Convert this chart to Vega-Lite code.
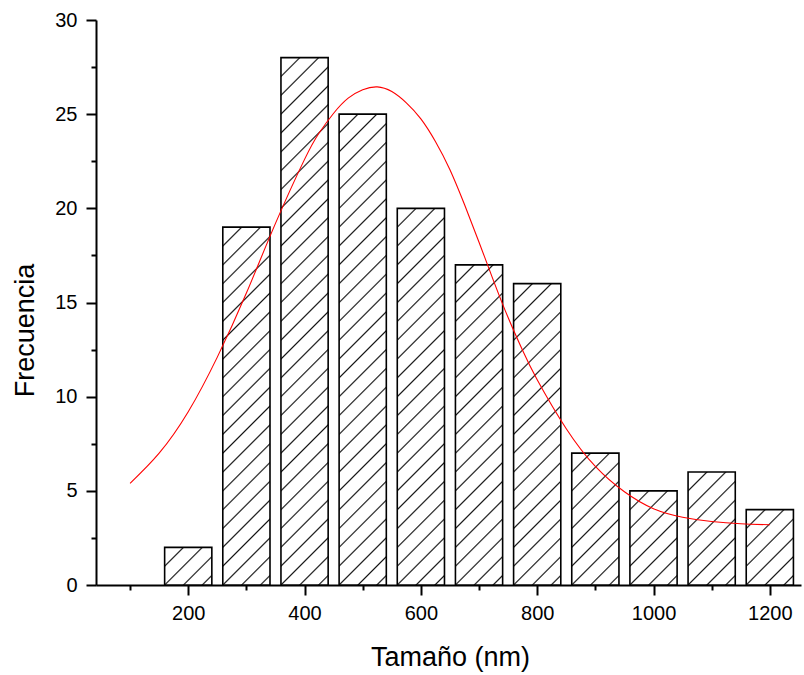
{
"$schema":"https://vega.github.io/schema/vega-lite/v6.json",
"width":705,"height":565,
"autosize":{"type":"none"},
"padding":{"left":96,"top":20,"right":3,"bottom":90},
"background":"white",
"config":{"view":{"stroke":null}},
"datasets":{
"bars":[{"size":200,"freq":2},{"size":300,"freq":19},{"size":400,"freq":28},{"size":500,"freq":25},{"size":600,"freq":20},{"size":700,"freq":17},{"size":800,"freq":16},{"size":900,"freq":7},{"size":1000,"freq":5},{"size":1100,"freq":6},{"size":1200,"freq":4}],
"curve":[{"size":100,"fit":5.4},{"size":150,"fit":7.0},{"size":200,"fit":9.2},{"size":250,"fit":12.1},{"size":300,"fit":15.5},{"size":350,"fit":19.2},{"size":400,"fit":22.6},{"size":425,"fit":24.0},{"size":450,"fit":25.05},{"size":475,"fit":25.85},{"size":500,"fit":26.3},{"size":525,"fit":26.45},{"size":550,"fit":26.2},{"size":575,"fit":25.6},{"size":600,"fit":24.75},{"size":625,"fit":23.55},{"size":650,"fit":22.05},{"size":675,"fit":20.2},{"size":700,"fit":18.2},{"size":725,"fit":16.15},{"size":750,"fit":14.2},{"size":775,"fit":12.45},{"size":800,"fit":10.9},{"size":850,"fit":8.3},{"size":900,"fit":6.3},{"size":950,"fit":4.95},{"size":1000,"fit":4.05},{"size":1050,"fit":3.6},{"size":1100,"fit":3.37},{"size":1150,"fit":3.25},{"size":1200,"fit":3.2}]
},
"data":{"name":"bars"},
"encoding":{
"x":{"field":"size","type":"quantitative","scale":{"domain":[50,1245],"nice":false,"zero":false},
"axis":{"values":[100,200,300,400,500,600,700,800,900,1000,1100,1200],"format":"d","labelExpr":"datum.value % 200 === 0 ? datum.label : ''","tickSize":{"condition":{"test":"datum.value % 200 === 0","value":10},"value":5},"grid":false,"domainColor":"#000","domainWidth":2,"tickColor":"#000","tickWidth":2,"labelFont":"Liberation Sans","labelFontSize":20,"labelColor":"#000","labelPadding":8,"labelFlush":false,"labelOverlap":false,"labelBound":false,"title":"Tamaño (nm)","titleFont":"Liberation Sans","titleFontSize":27,"titleFontWeight":"normal","titleColor":"#000","titleX":354,"titleY":80,"titleBaseline":"alphabetic","titleAlign":"center"}},
"y":{"field":"freq","type":"quantitative","scale":{"domain":[0,30],"nice":false,"zero":true},
"axis":{"values":[0,2.5,5,7.5,10,12.5,15,17.5,20,22.5,25,27.5,30],"labelExpr":"datum.value % 5 === 0 ? datum.label : ''","tickSize":{"condition":{"test":"datum.value % 5 === 0","value":10},"value":5},"grid":false,"domainColor":"#000","domainWidth":2,"tickColor":"#000","tickWidth":2,"labelFont":"Liberation Sans","labelFontSize":20,"labelColor":"#000","labelPadding":9,"labelFlush":false,"labelOverlap":false,"labelBound":false,"title":"Frecuencia","titleFont":"Liberation Sans","titleFontSize":27,"titleFontWeight":"normal","titleColor":"#000","titleAngle":-90,"titleX":-63,"titleY":310,"titleBaseline":"alphabetic","titleAlign":"center"}}
},
"layer":[
{"transform":[{"filter":"datum.size===200"}],"mark":{"type":"bar","width":47.2,"stroke":"#000","strokeWidth":1.6,"fill":{"gradient":"linear","x1":0,"y1":0,"x2":1.0984,"y2":0.8766,"stops":[{"offset":0.2030,"color":"#fff"},{"offset":0.2219,"color":"#111"},{"offset":0.2408,"color":"#fff"},{"offset":0.4250,"color":"#fff"},{"offset":0.4439,"color":"#111"},{"offset":0.4628,"color":"#fff"},{"offset":0.6469,"color":"#fff"},{"offset":0.6658,"color":"#111"},{"offset":0.6847,"color":"#fff"},{"offset":0.8688,"color":"#fff"},{"offset":0.8877,"color":"#111"},{"offset":0.9066,"color":"#fff"}]}}},
{"transform":[{"filter":"datum.size===300"}],"mark":{"type":"bar","width":47.2,"stroke":"#000","strokeWidth":1.6,"fill":{"gradient":"linear","x1":0,"y1":0,"x2":0.14674,"y2":1.11254,"stops":[{"offset":0.0425,"color":"#fff"},{"offset":0.0465,"color":"#111"},{"offset":0.0505,"color":"#fff"},{"offset":0.0890,"color":"#fff"},{"offset":0.0930,"color":"#111"},{"offset":0.0970,"color":"#fff"},{"offset":0.1355,"color":"#fff"},{"offset":0.1395,"color":"#111"},{"offset":0.1435,"color":"#fff"},{"offset":0.1820,"color":"#fff"},{"offset":0.1860,"color":"#111"},{"offset":0.1900,"color":"#fff"},{"offset":0.2285,"color":"#fff"},{"offset":0.2325,"color":"#111"},{"offset":0.2365,"color":"#fff"},{"offset":0.2750,"color":"#fff"},{"offset":0.2790,"color":"#111"},{"offset":0.2830,"color":"#fff"},{"offset":0.3215,"color":"#fff"},{"offset":0.3255,"color":"#111"},{"offset":0.3295,"color":"#fff"},{"offset":0.3680,"color":"#fff"},{"offset":0.3720,"color":"#111"},{"offset":0.3760,"color":"#fff"},{"offset":0.4145,"color":"#fff"},{"offset":0.4185,"color":"#111"},{"offset":0.4225,"color":"#fff"},{"offset":0.4610,"color":"#fff"},{"offset":0.4650,"color":"#111"},{"offset":0.4690,"color":"#fff"},{"offset":0.5075,"color":"#fff"},{"offset":0.5115,"color":"#111"},{"offset":0.5155,"color":"#fff"},{"offset":0.5540,"color":"#fff"},{"offset":0.5580,"color":"#111"},{"offset":0.5620,"color":"#fff"},{"offset":0.6005,"color":"#fff"},{"offset":0.6045,"color":"#111"},{"offset":0.6085,"color":"#fff"},{"offset":0.6470,"color":"#fff"},{"offset":0.6510,"color":"#111"},{"offset":0.6550,"color":"#fff"},{"offset":0.6935,"color":"#fff"},{"offset":0.6975,"color":"#111"},{"offset":0.7015,"color":"#fff"},{"offset":0.7400,"color":"#fff"},{"offset":0.7440,"color":"#111"},{"offset":0.7480,"color":"#fff"},{"offset":0.7865,"color":"#fff"},{"offset":0.7905,"color":"#111"},{"offset":0.7945,"color":"#fff"},{"offset":0.8330,"color":"#fff"},{"offset":0.8370,"color":"#111"},{"offset":0.8410,"color":"#fff"},{"offset":0.8795,"color":"#fff"},{"offset":0.8835,"color":"#111"},{"offset":0.8875,"color":"#fff"},{"offset":0.9260,"color":"#fff"},{"offset":0.9300,"color":"#111"},{"offset":0.9340,"color":"#fff"},{"offset":0.9725,"color":"#fff"},{"offset":0.9765,"color":"#111"},{"offset":0.9805,"color":"#fff"}]}}},
{"transform":[{"filter":"datum.size===400"}],"mark":{"type":"bar","width":47.2,"stroke":"#000","strokeWidth":1.6,"fill":{"gradient":"linear","x1":0,"y1":0,"x2":0.096738,"y2":1.080843,"stops":[{"offset":0.0300,"color":"#fff"},{"offset":0.0328,"color":"#111"},{"offset":0.0356,"color":"#fff"},{"offset":0.0628,"color":"#fff"},{"offset":0.0656,"color":"#111"},{"offset":0.0684,"color":"#fff"},{"offset":0.0955,"color":"#fff"},{"offset":0.0983,"color":"#111"},{"offset":0.1011,"color":"#fff"},{"offset":0.1283,"color":"#fff"},{"offset":0.1311,"color":"#111"},{"offset":0.1339,"color":"#fff"},{"offset":0.1611,"color":"#fff"},{"offset":0.1639,"color":"#111"},{"offset":0.1667,"color":"#fff"},{"offset":0.1939,"color":"#fff"},{"offset":0.1967,"color":"#111"},{"offset":0.1995,"color":"#fff"},{"offset":0.2267,"color":"#fff"},{"offset":0.2295,"color":"#111"},{"offset":0.2323,"color":"#fff"},{"offset":0.2594,"color":"#fff"},{"offset":0.2622,"color":"#111"},{"offset":0.2650,"color":"#fff"},{"offset":0.2922,"color":"#fff"},{"offset":0.2950,"color":"#111"},{"offset":0.2978,"color":"#fff"},{"offset":0.3250,"color":"#fff"},{"offset":0.3278,"color":"#111"},{"offset":0.3306,"color":"#fff"},{"offset":0.3578,"color":"#fff"},{"offset":0.3606,"color":"#111"},{"offset":0.3634,"color":"#fff"},{"offset":0.3906,"color":"#fff"},{"offset":0.3934,"color":"#111"},{"offset":0.3962,"color":"#fff"},{"offset":0.4233,"color":"#fff"},{"offset":0.4261,"color":"#111"},{"offset":0.4289,"color":"#fff"},{"offset":0.4561,"color":"#fff"},{"offset":0.4589,"color":"#111"},{"offset":0.4617,"color":"#fff"},{"offset":0.4889,"color":"#fff"},{"offset":0.4917,"color":"#111"},{"offset":0.4945,"color":"#fff"},{"offset":0.5217,"color":"#fff"},{"offset":0.5245,"color":"#111"},{"offset":0.5273,"color":"#fff"},{"offset":0.5545,"color":"#fff"},{"offset":0.5573,"color":"#111"},{"offset":0.5601,"color":"#fff"},{"offset":0.5872,"color":"#fff"},{"offset":0.5900,"color":"#111"},{"offset":0.5928,"color":"#fff"},{"offset":0.6200,"color":"#fff"},{"offset":0.6228,"color":"#111"},{"offset":0.6256,"color":"#fff"},{"offset":0.6528,"color":"#fff"},{"offset":0.6556,"color":"#111"},{"offset":0.6584,"color":"#fff"},{"offset":0.6856,"color":"#fff"},{"offset":0.6884,"color":"#111"},{"offset":0.6912,"color":"#fff"},{"offset":0.7184,"color":"#fff"},{"offset":0.7212,"color":"#111"},{"offset":0.7240,"color":"#fff"},{"offset":0.7511,"color":"#fff"},{"offset":0.7539,"color":"#111"},{"offset":0.7567,"color":"#fff"},{"offset":0.7839,"color":"#fff"},{"offset":0.7867,"color":"#111"},{"offset":0.7895,"color":"#fff"},{"offset":0.8167,"color":"#fff"},{"offset":0.8195,"color":"#111"},{"offset":0.8223,"color":"#fff"},{"offset":0.8495,"color":"#fff"},{"offset":0.8523,"color":"#111"},{"offset":0.8551,"color":"#fff"},{"offset":0.8823,"color":"#fff"},{"offset":0.8851,"color":"#111"},{"offset":0.8879,"color":"#fff"},{"offset":0.9150,"color":"#fff"},{"offset":0.9178,"color":"#111"},{"offset":0.9206,"color":"#fff"},{"offset":0.9478,"color":"#fff"},{"offset":0.9506,"color":"#111"},{"offset":0.9534,"color":"#fff"},{"offset":0.9806,"color":"#fff"},{"offset":0.9834,"color":"#111"},{"offset":0.9862,"color":"#fff"}]}}},
{"transform":[{"filter":"datum.size===500"}],"mark":{"type":"bar","width":47.2,"stroke":"#000","strokeWidth":1.6,"fill":{"gradient":"linear","x1":0,"y1":0,"x2":0.109193,"y2":1.089297,"stops":[{"offset":0.0333,"color":"#fff"},{"offset":0.0364,"color":"#111"},{"offset":0.0395,"color":"#fff"},{"offset":0.0696,"color":"#fff"},{"offset":0.0727,"color":"#111"},{"offset":0.0758,"color":"#fff"},{"offset":0.1060,"color":"#fff"},{"offset":0.1091,"color":"#111"},{"offset":0.1122,"color":"#fff"},{"offset":0.1423,"color":"#fff"},{"offset":0.1454,"color":"#111"},{"offset":0.1485,"color":"#fff"},{"offset":0.1787,"color":"#fff"},{"offset":0.1818,"color":"#111"},{"offset":0.1849,"color":"#fff"},{"offset":0.2150,"color":"#fff"},{"offset":0.2181,"color":"#111"},{"offset":0.2212,"color":"#fff"},{"offset":0.2514,"color":"#fff"},{"offset":0.2545,"color":"#111"},{"offset":0.2576,"color":"#fff"},{"offset":0.2877,"color":"#fff"},{"offset":0.2908,"color":"#111"},{"offset":0.2939,"color":"#fff"},{"offset":0.3241,"color":"#fff"},{"offset":0.3272,"color":"#111"},{"offset":0.3303,"color":"#fff"},{"offset":0.3605,"color":"#fff"},{"offset":0.3636,"color":"#111"},{"offset":0.3667,"color":"#fff"},{"offset":0.3968,"color":"#fff"},{"offset":0.3999,"color":"#111"},{"offset":0.4030,"color":"#fff"},{"offset":0.4332,"color":"#fff"},{"offset":0.4363,"color":"#111"},{"offset":0.4394,"color":"#fff"},{"offset":0.4695,"color":"#fff"},{"offset":0.4726,"color":"#111"},{"offset":0.4757,"color":"#fff"},{"offset":0.5059,"color":"#fff"},{"offset":0.5090,"color":"#111"},{"offset":0.5121,"color":"#fff"},{"offset":0.5422,"color":"#fff"},{"offset":0.5453,"color":"#111"},{"offset":0.5484,"color":"#fff"},{"offset":0.5786,"color":"#fff"},{"offset":0.5817,"color":"#111"},{"offset":0.5848,"color":"#fff"},{"offset":0.6150,"color":"#fff"},{"offset":0.6181,"color":"#111"},{"offset":0.6212,"color":"#fff"},{"offset":0.6513,"color":"#fff"},{"offset":0.6544,"color":"#111"},{"offset":0.6575,"color":"#fff"},{"offset":0.6877,"color":"#fff"},{"offset":0.6908,"color":"#111"},{"offset":0.6939,"color":"#fff"},{"offset":0.7240,"color":"#fff"},{"offset":0.7271,"color":"#111"},{"offset":0.7302,"color":"#fff"},{"offset":0.7604,"color":"#fff"},{"offset":0.7635,"color":"#111"},{"offset":0.7666,"color":"#fff"},{"offset":0.7967,"color":"#fff"},{"offset":0.7998,"color":"#111"},{"offset":0.8029,"color":"#fff"},{"offset":0.8331,"color":"#fff"},{"offset":0.8362,"color":"#111"},{"offset":0.8393,"color":"#fff"},{"offset":0.8694,"color":"#fff"},{"offset":0.8725,"color":"#111"},{"offset":0.8756,"color":"#fff"},{"offset":0.9058,"color":"#fff"},{"offset":0.9089,"color":"#111"},{"offset":0.9120,"color":"#fff"},{"offset":0.9422,"color":"#fff"},{"offset":0.9453,"color":"#111"},{"offset":0.9484,"color":"#fff"},{"offset":0.9785,"color":"#fff"},{"offset":0.9816,"color":"#111"},{"offset":0.9847,"color":"#fff"}]}}},
{"transform":[{"filter":"datum.size===600"}],"mark":{"type":"bar","width":47.2,"stroke":"#000","strokeWidth":1.6,"fill":{"gradient":"linear","x1":0,"y1":0,"x2":0.138823,"y2":1.107907,"stops":[{"offset":0.0406,"color":"#fff"},{"offset":0.0444,"color":"#111"},{"offset":0.0482,"color":"#fff"},{"offset":0.0851,"color":"#fff"},{"offset":0.0889,"color":"#111"},{"offset":0.0927,"color":"#fff"},{"offset":0.1295,"color":"#fff"},{"offset":0.1333,"color":"#111"},{"offset":0.1371,"color":"#fff"},{"offset":0.1739,"color":"#fff"},{"offset":0.1777,"color":"#111"},{"offset":0.1815,"color":"#fff"},{"offset":0.2184,"color":"#fff"},{"offset":0.2222,"color":"#111"},{"offset":0.2260,"color":"#fff"},{"offset":0.2628,"color":"#fff"},{"offset":0.2666,"color":"#111"},{"offset":0.2704,"color":"#fff"},{"offset":0.3072,"color":"#fff"},{"offset":0.3110,"color":"#111"},{"offset":0.3148,"color":"#fff"},{"offset":0.3517,"color":"#fff"},{"offset":0.3555,"color":"#111"},{"offset":0.3593,"color":"#fff"},{"offset":0.3961,"color":"#fff"},{"offset":0.3999,"color":"#111"},{"offset":0.4037,"color":"#fff"},{"offset":0.4405,"color":"#fff"},{"offset":0.4443,"color":"#111"},{"offset":0.4481,"color":"#fff"},{"offset":0.4850,"color":"#fff"},{"offset":0.4888,"color":"#111"},{"offset":0.4926,"color":"#fff"},{"offset":0.5294,"color":"#fff"},{"offset":0.5332,"color":"#111"},{"offset":0.5370,"color":"#fff"},{"offset":0.5738,"color":"#fff"},{"offset":0.5776,"color":"#111"},{"offset":0.5814,"color":"#fff"},{"offset":0.6183,"color":"#fff"},{"offset":0.6221,"color":"#111"},{"offset":0.6259,"color":"#fff"},{"offset":0.6627,"color":"#fff"},{"offset":0.6665,"color":"#111"},{"offset":0.6703,"color":"#fff"},{"offset":0.7071,"color":"#fff"},{"offset":0.7109,"color":"#111"},{"offset":0.7147,"color":"#fff"},{"offset":0.7516,"color":"#fff"},{"offset":0.7554,"color":"#111"},{"offset":0.7592,"color":"#fff"},{"offset":0.7960,"color":"#fff"},{"offset":0.7998,"color":"#111"},{"offset":0.8036,"color":"#fff"},{"offset":0.8404,"color":"#fff"},{"offset":0.8442,"color":"#111"},{"offset":0.8480,"color":"#fff"},{"offset":0.8849,"color":"#fff"},{"offset":0.8887,"color":"#111"},{"offset":0.8925,"color":"#fff"},{"offset":0.9293,"color":"#fff"},{"offset":0.9331,"color":"#111"},{"offset":0.9369,"color":"#fff"},{"offset":0.9737,"color":"#fff"},{"offset":0.9775,"color":"#111"},{"offset":0.9813,"color":"#fff"}]}}},
{"transform":[{"filter":"datum.size===700"}],"mark":{"type":"bar","width":47.2,"stroke":"#000","strokeWidth":1.6,"fill":{"gradient":"linear","x1":0,"y1":0,"x2":0.165546,"y2":1.123009,"stops":[{"offset":0.0469,"color":"#fff"},{"offset":0.0513,"color":"#111"},{"offset":0.0557,"color":"#fff"},{"offset":0.0981,"color":"#fff"},{"offset":0.1025,"color":"#111"},{"offset":0.1069,"color":"#fff"},{"offset":0.1494,"color":"#fff"},{"offset":0.1538,"color":"#111"},{"offset":0.1582,"color":"#fff"},{"offset":0.2007,"color":"#fff"},{"offset":0.2051,"color":"#111"},{"offset":0.2095,"color":"#fff"},{"offset":0.2519,"color":"#fff"},{"offset":0.2563,"color":"#111"},{"offset":0.2607,"color":"#fff"},{"offset":0.3032,"color":"#fff"},{"offset":0.3076,"color":"#111"},{"offset":0.3120,"color":"#fff"},{"offset":0.3545,"color":"#fff"},{"offset":0.3589,"color":"#111"},{"offset":0.3633,"color":"#fff"},{"offset":0.4057,"color":"#fff"},{"offset":0.4101,"color":"#111"},{"offset":0.4145,"color":"#fff"},{"offset":0.4570,"color":"#fff"},{"offset":0.4614,"color":"#111"},{"offset":0.4658,"color":"#fff"},{"offset":0.5083,"color":"#fff"},{"offset":0.5127,"color":"#111"},{"offset":0.5171,"color":"#fff"},{"offset":0.5595,"color":"#fff"},{"offset":0.5639,"color":"#111"},{"offset":0.5683,"color":"#fff"},{"offset":0.6108,"color":"#fff"},{"offset":0.6152,"color":"#111"},{"offset":0.6196,"color":"#fff"},{"offset":0.6621,"color":"#fff"},{"offset":0.6665,"color":"#111"},{"offset":0.6709,"color":"#fff"},{"offset":0.7133,"color":"#fff"},{"offset":0.7177,"color":"#111"},{"offset":0.7221,"color":"#fff"},{"offset":0.7646,"color":"#fff"},{"offset":0.7690,"color":"#111"},{"offset":0.7734,"color":"#fff"},{"offset":0.8159,"color":"#fff"},{"offset":0.8203,"color":"#111"},{"offset":0.8247,"color":"#fff"},{"offset":0.8671,"color":"#fff"},{"offset":0.8715,"color":"#111"},{"offset":0.8759,"color":"#fff"},{"offset":0.9184,"color":"#fff"},{"offset":0.9228,"color":"#111"},{"offset":0.9272,"color":"#fff"},{"offset":0.9697,"color":"#fff"},{"offset":0.9741,"color":"#111"},{"offset":0.9785,"color":"#fff"}]}}},
{"transform":[{"filter":"datum.size===800"}],"mark":{"type":"bar","width":47.2,"stroke":"#000","strokeWidth":1.6,"fill":{"gradient":"linear","x1":0,"y1":0,"x2":0.176822,"y2":1.128935,"stops":[{"offset":0.0494,"color":"#fff"},{"offset":0.0540,"color":"#111"},{"offset":0.0586,"color":"#fff"},{"offset":0.1035,"color":"#fff"},{"offset":0.1081,"color":"#111"},{"offset":0.1127,"color":"#fff"},{"offset":0.1575,"color":"#fff"},{"offset":0.1621,"color":"#111"},{"offset":0.1667,"color":"#fff"},{"offset":0.2115,"color":"#fff"},{"offset":0.2161,"color":"#111"},{"offset":0.2207,"color":"#fff"},{"offset":0.2656,"color":"#fff"},{"offset":0.2702,"color":"#111"},{"offset":0.2748,"color":"#fff"},{"offset":0.3196,"color":"#fff"},{"offset":0.3242,"color":"#111"},{"offset":0.3288,"color":"#fff"},{"offset":0.3737,"color":"#fff"},{"offset":0.3783,"color":"#111"},{"offset":0.3829,"color":"#fff"},{"offset":0.4277,"color":"#fff"},{"offset":0.4323,"color":"#111"},{"offset":0.4369,"color":"#fff"},{"offset":0.4817,"color":"#fff"},{"offset":0.4863,"color":"#111"},{"offset":0.4909,"color":"#fff"},{"offset":0.5358,"color":"#fff"},{"offset":0.5404,"color":"#111"},{"offset":0.5450,"color":"#fff"},{"offset":0.5898,"color":"#fff"},{"offset":0.5944,"color":"#111"},{"offset":0.5990,"color":"#fff"},{"offset":0.6438,"color":"#fff"},{"offset":0.6484,"color":"#111"},{"offset":0.6530,"color":"#fff"},{"offset":0.6979,"color":"#fff"},{"offset":0.7025,"color":"#111"},{"offset":0.7071,"color":"#fff"},{"offset":0.7519,"color":"#fff"},{"offset":0.7565,"color":"#111"},{"offset":0.7611,"color":"#fff"},{"offset":0.8060,"color":"#fff"},{"offset":0.8106,"color":"#111"},{"offset":0.8152,"color":"#fff"},{"offset":0.8600,"color":"#fff"},{"offset":0.8646,"color":"#111"},{"offset":0.8692,"color":"#fff"},{"offset":0.9140,"color":"#fff"},{"offset":0.9186,"color":"#111"},{"offset":0.9232,"color":"#fff"},{"offset":0.9681,"color":"#fff"},{"offset":0.9727,"color":"#111"},{"offset":0.9773,"color":"#fff"}]}}},
{"transform":[{"filter":"datum.size===900"}],"mark":{"type":"bar","width":47.2,"stroke":"#000","strokeWidth":1.6,"fill":{"gradient":"linear","x1":0,"y1":0,"x2":0.430951,"y2":1.203726,"stops":[{"offset":0.0963,"color":"#fff"},{"offset":0.1052,"color":"#111"},{"offset":0.1141,"color":"#fff"},{"offset":0.2015,"color":"#fff"},{"offset":0.2104,"color":"#111"},{"offset":0.2193,"color":"#fff"},{"offset":0.3067,"color":"#fff"},{"offset":0.3156,"color":"#111"},{"offset":0.3245,"color":"#fff"},{"offset":0.4119,"color":"#fff"},{"offset":0.4208,"color":"#111"},{"offset":0.4297,"color":"#fff"},{"offset":0.5171,"color":"#fff"},{"offset":0.5260,"color":"#111"},{"offset":0.5349,"color":"#fff"},{"offset":0.6223,"color":"#fff"},{"offset":0.6312,"color":"#111"},{"offset":0.6401,"color":"#fff"},{"offset":0.7275,"color":"#fff"},{"offset":0.7364,"color":"#111"},{"offset":0.7453,"color":"#fff"},{"offset":0.8327,"color":"#fff"},{"offset":0.8416,"color":"#111"},{"offset":0.8505,"color":"#fff"},{"offset":0.9379,"color":"#fff"},{"offset":0.9468,"color":"#111"},{"offset":0.9557,"color":"#fff"}]}}},
{"transform":[{"filter":"datum.size===1000"}],"mark":{"type":"bar","width":47.2,"stroke":"#000","strokeWidth":1.6,"fill":{"gradient":"linear","x1":0,"y1":0,"x2":0.601350,"y2":1.199808,"stops":[{"offset":0.1219,"color":"#fff"},{"offset":0.1332,"color":"#111"},{"offset":0.1445,"color":"#fff"},{"offset":0.2552,"color":"#fff"},{"offset":0.2665,"color":"#111"},{"offset":0.2778,"color":"#fff"},{"offset":0.3884,"color":"#fff"},{"offset":0.3997,"color":"#111"},{"offset":0.4110,"color":"#fff"},{"offset":0.5216,"color":"#fff"},{"offset":0.5329,"color":"#111"},{"offset":0.5442,"color":"#fff"},{"offset":0.6548,"color":"#fff"},{"offset":0.6661,"color":"#111"},{"offset":0.6774,"color":"#fff"},{"offset":0.7881,"color":"#fff"},{"offset":0.7994,"color":"#111"},{"offset":0.8107,"color":"#fff"},{"offset":0.9213,"color":"#fff"},{"offset":0.9326,"color":"#111"},{"offset":0.9439,"color":"#fff"}]}}},
{"transform":[{"filter":"datum.size===1100"}],"mark":{"type":"bar","width":47.2,"stroke":"#000","strokeWidth":1.6,"fill":{"gradient":"linear","x1":0,"y1":0,"x2":0.504171,"y2":1.207094,"stops":[{"offset":0.1076,"color":"#fff"},{"offset":0.1176,"color":"#111"},{"offset":0.1276,"color":"#fff"},{"offset":0.2251,"color":"#fff"},{"offset":0.2351,"color":"#111"},{"offset":0.2451,"color":"#fff"},{"offset":0.3427,"color":"#fff"},{"offset":0.3527,"color":"#111"},{"offset":0.3627,"color":"#fff"},{"offset":0.4603,"color":"#fff"},{"offset":0.4703,"color":"#111"},{"offset":0.4803,"color":"#fff"},{"offset":0.5778,"color":"#fff"},{"offset":0.5878,"color":"#111"},{"offset":0.5978,"color":"#fff"},{"offset":0.6954,"color":"#fff"},{"offset":0.7054,"color":"#111"},{"offset":0.7154,"color":"#fff"},{"offset":0.8129,"color":"#fff"},{"offset":0.8229,"color":"#111"},{"offset":0.8329,"color":"#fff"},{"offset":0.9305,"color":"#fff"},{"offset":0.9405,"color":"#111"},{"offset":0.9505,"color":"#fff"}]}}},
{"transform":[{"filter":"datum.size===1200"}],"mark":{"type":"bar","width":47.2,"stroke":"#000","strokeWidth":1.6,"fill":{"gradient":"linear","x1":0,"y1":0,"x2":0.731782,"y2":1.168035,"stops":[{"offset":0.1406,"color":"#fff"},{"offset":0.1537,"color":"#111"},{"offset":0.1668,"color":"#fff"},{"offset":0.2943,"color":"#fff"},{"offset":0.3074,"color":"#111"},{"offset":0.3205,"color":"#fff"},{"offset":0.4480,"color":"#fff"},{"offset":0.4611,"color":"#111"},{"offset":0.4742,"color":"#fff"},{"offset":0.6017,"color":"#fff"},{"offset":0.6148,"color":"#111"},{"offset":0.6279,"color":"#fff"},{"offset":0.7554,"color":"#fff"},{"offset":0.7685,"color":"#111"},{"offset":0.7816,"color":"#fff"},{"offset":0.9091,"color":"#fff"},{"offset":0.9222,"color":"#111"},{"offset":0.9353,"color":"#fff"}]}}},
{"data":{"name":"curve"},"mark":{"type":"line","interpolate":"natural","stroke":"#ff0000","strokeWidth":1.1},"encoding":{"y":{"field":"fit","type":"quantitative","title":"Frecuencia"}}}
]
}
